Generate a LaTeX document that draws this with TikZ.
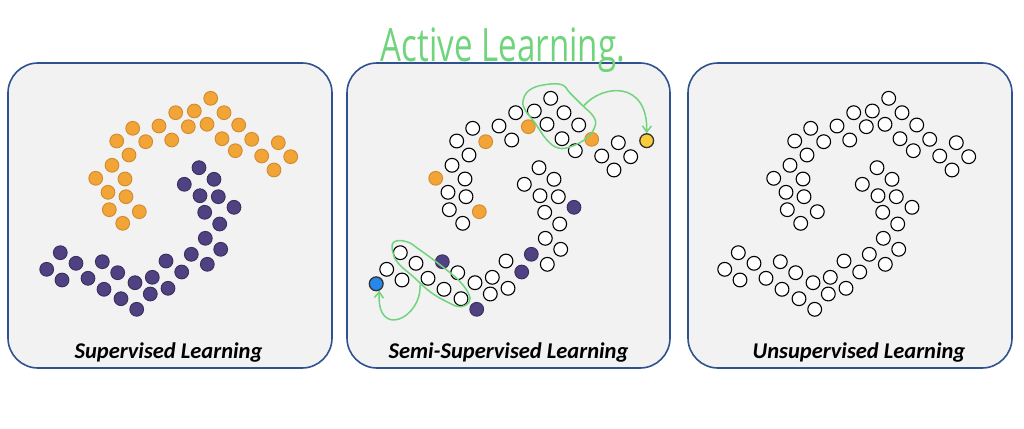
\documentclass[tikz,border=0pt]{standalone}
\usepackage{fontspec}
\setmainfont{Carlito}
\newfontfamily\handfont{Open Sans}
\usetikzlibrary{arrows.meta}

\definecolor{panelblue}{RGB}{47,82,143}
\definecolor{panelgray}{RGB}{242,242,242}
\definecolor{moonorange}{RGB}{243,164,55}
\definecolor{moonpurple}{RGB}{80,66,130}
\definecolor{pengreen}{RGB}{112,212,124}
\definecolor{pickyellow}{RGB}{247,205,60}
\definecolor{seedblue}{RGB}{40,135,235}

% x/y of each moon point, its class, and how it looks in the semi-supervised panel
\def\moons{210.7/98.3/odot/wdot, 175.7/112.7/odot/wdot, 194.3/111/odot/wdot,
  224/112.7/odot/wdot, 132.7/128.3/odot/wdot, 159/126/odot/wdot,
  188.3/126.7/odot/odot, 207/124.3/odot/wdot, 238.7/125/odot/wdot,
  116.7/141/odot/wdot, 145.7/141.7/odot/odot, 171.7/140/odot/wdot,
  222/138.7/odot/wdot, 251.7/139.3/odot/odot, 278.3/142.7/odot/wdot,
  129/155/odot/wdot, 235.3/150.7/odot/wdot, 261.7/156/odot/wdot,
  290.7/156.7/odot/wdot, 112/165.3/odot/wdot, 274/170/odot/wdot,
  95.7/178.3/odot/odot, 125/179/odot/wdot, 108/192.3/odot/wdot,
  126/196.7/odot/wdot, 109.3/209.7/odot/wdot, 139.3/211.7/odot/odot,
  122.7/223.3/odot/wdot,
  199/167.7/pdot/wdot, 184.3/184.3/pdot/wdot, 214/179.3/pdot/wdot,
  200/195.7/pdot/wdot, 218.3/196.7/pdot/wdot, 234/207.3/pdot/pdot,
  204.7/212.3/pdot/wdot, 219.7/224/pdot/wdot, 205.3/238.3/pdot/wdot,
  220.7/249.3/pdot/wdot, 191.3/254.3/pdot/pdot, 207.3/264.3/pdot/wdot,
  166/261/pdot/wdot, 181.7/272/pdot/pdot, 152.3/277.3/pdot/wdot,
  168/288.3/pdot/wdot, 135/282.7/pdot/wdot, 150.3/294/pdot/wdot,
  117.7/272.7/pdot/wdot, 102.3/261.7/pdot/pdot, 104/289.3/pdot/wdot,
  121/298.7/pdot/wdot, 136.7/309.3/pdot/pdot, 88/278.3/pdot/wdot,
  76/263.3/pdot/wdot, 60.3/252.7/pdot/wdot, 46.7/269.3/pdot/wdot,
  62/280/pdot/wdot}

\begin{document}
\begin{tikzpicture}[x=1pt, y=-1pt,
    panel/.style={draw=panelblue, line width=1.6pt, fill=panelgray,
      rounded corners=30pt, minimum height=305pt, inner sep=0pt},
    moondot/.style={circle, inner sep=0pt, minimum size=13.8pt, line width=0.9pt},
    odot/.style={moondot, fill=moonorange, draw=moonorange!85!black},
    pdot/.style={moondot, fill=moonpurple, draw=moonpurple!70!black},
    wdot/.style={moondot, fill=white, draw=black, line width=1.1pt},
    ydot/.style={moondot, fill=pickyellow, draw=black!80, line width=1.3pt},
    bdot/.style={moondot, fill=seedblue, draw=black!80, line width=1.3pt},
    paneltag/.style={font=\fontsize{22.5}{22.5}\selectfont\bfseries\itshape, anchor=base},
    greenpen/.style={draw=pengreen, line width=1.5pt, line cap=round, line join=round}]
  \useasboundingbox (0,0) rectangle (1024,428);

  \node[panel, minimum width=324pt] (sup) at (170,215.5) {};
  \node[panel, minimum width=323pt] (semi) at (508.5,215.5) {};
  \node[panel, minimum width=324pt] (unsup) at (850,215.5) {};

  \foreach \x/\y/\c/\s [count=\i] in \moons {
    \node[\c] (sup-\i) at (\x,\y) {};
    \node[\s] (semi-\i) at (\x+340,\y) {};
    \node[wdot] (unsup-\i) at (\x+678,\y) {};
  }
  \node[ydot] (pick) at (646.7,140.7) {};
  \node[bdot] (seed) at (376.2,283.8) {};

  \node[paneltag] (suptag) at (168.5,358.5) {Supervised Learning};
  \node[paneltag] (semitag) at (508.5,358.5) {Semi-Supervised Learning};
  \node[paneltag] (unsuptag) at (859,358.5) {Unsupervised Learning};

  % active learning queries
  \draw[greenpen] plot[smooth cycle, tension=0.7] coordinates {(523.3,99.7) (530,89.7)
    (545,84.7) (561.7,84.7) (570,93) (581.7,104.7) (593.3,116.3) (595,126.3)
    (586.7,138) (571.7,146.3) (558.3,148) (546.7,139.7) (535,123) (525,109.7)};
  \draw[greenpen] plot[smooth cycle, tension=0.7] coordinates {(394,242) (406.7,241.7)
    (420,250) (446.7,270) (460,281.7) (468.3,293.3) (469.3,301.7) (460,306.7)
    (446.7,301.7) (430,291.7) (413.3,276.7) (398.3,263.3) (392.7,251.7)};
  \coordinate (grab) at (583.3,106.3);
  \coordinate (hold) at (420,285);
  \draw[greenpen, -{Straight Barb[length=6pt, width=9pt]}] (grab)
    .. controls (602,84) and (648,80) .. (pick.north);
  \draw[greenpen, -{Straight Barb[length=6pt, width=9pt]}] (hold)
    .. controls (422,318) and (376,340) .. (seed.-65);

  \node[text=pengreen, anchor=base] (active) at (503,62)
    {\scalebox{0.72}[1]{\handfont\fontsize{46}{46}\selectfont Active Learning.}};
\end{tikzpicture}
\end{document}
